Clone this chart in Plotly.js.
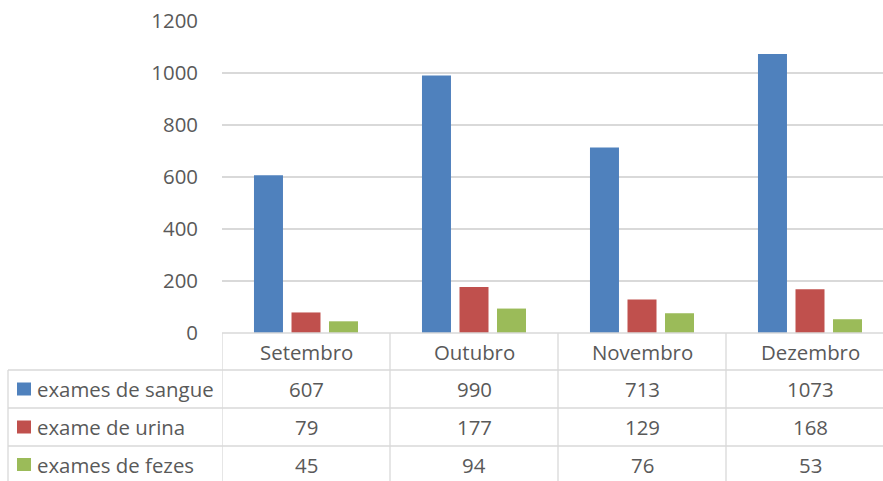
<!DOCTYPE html>
<html>
<head>
<meta charset="utf-8">
<script src="https://cdn.plot.ly/plotly-3.0.1.min.js"></script>
<style>
html,body{margin:0;padding:0;overflow:hidden;background:#fff;}
#chart{width:900px;height:481px;}
</style>
</head>
<body>
<div id="chart"></div>
<script>
const categories = ["Setembro", "Outubro", "Novembro", "Dezembro"];
const seriesNames = ["exames de sangue", "exame de urina", "exames de fezes"];
const sangue = [607, 990, 713, 1073];
const urina = [79, 177, 129, 168];
const fezes = [45, 94, 76, 53];
const yTicks = [0, 200, 400, 600, 800, 1000, 1200];

const seriesValues = [sangue, urina, fezes];
const colors = ["#4F81BD", "#C0504D", "#9BBB59"];
const FONT = "Open Sans, sans-serif";
const FS = 20.4;
const TXT = "#595959";
const GRID = "#D9D9D9";

// layout geometry (pixels)
const W = 900, H = 481;
const L = 222, R = 894, T = 21, B = 333;
const pw = R - L, ph = B - T;
const px = X => (X - L) / pw;
const py = Y => (B - Y) / ph;

const rowEdges = [333, 370, 408, 446, 484];
const rowCenters = [351.5, 389, 427, 464.5];

const traces = seriesValues.map((vals, i) => ({
  type: "bar",
  name: seriesNames[i],
  x: categories,
  y: vals,
  marker: {color: colors[i]},
  hoverinfo: "x+y+name"
}));

const shapes = [];
const annotations = [];

// horizontal table lines
shapes.push({type: "line", xref: "paper", yref: "paper", x0: 0, x1: 1, y0: py(rowEdges[0]), y1: py(rowEdges[0]), line: {color: GRID, width: 1.3}});
for (let r = 1; r < rowEdges.length; r++) {
  shapes.push({type: "line", xref: "paper", yref: "paper", x0: px(8), x1: 1, y0: py(rowEdges[r]), y1: py(rowEdges[r]), line: {color: GRID, width: 1.3}});
}
// vertical table lines
shapes.push({type: "line", xref: "paper", yref: "paper", x0: px(8), x1: px(8), y0: py(rowEdges[1]), y1: py(rowEdges[4]), line: {color: GRID, width: 1.3}});
for (let c = 0; c <= categories.length; c++) {
  shapes.push({type: "line", xref: "x", yref: "paper", x0: c - 0.5, x1: c - 0.5, y0: py(rowEdges[0]), y1: py(rowEdges[4]), line: {color: GRID, width: 1.3}});
}

// header: category names
categories.forEach((cat, c) => {
  annotations.push({xref: "x", yref: "paper", x: c, y: py(rowCenters[0]), text: cat, showarrow: false,
    xanchor: "center", yanchor: "middle", font: {family: FONT, size: FS, color: TXT}});
});

// rows: legend keys, names and values
seriesNames.forEach((name, i) => {
  const yc = rowCenters[i + 1];
  shapes.push({type: "rect", xref: "paper", yref: "paper", x0: px(17), x1: px(31), y0: py(yc - 6.5), y1: py(yc + 6.5),
    fillcolor: colors[i], line: {width: 0}});
  annotations.push({xref: "paper", yref: "paper", x: px(35), y: py(yc), text: name, showarrow: false,
    xanchor: "left", yanchor: "middle", font: {family: FONT, size: FS, color: TXT}});
  seriesValues[i].forEach((v, c) => {
    annotations.push({xref: "x", yref: "paper", x: c, y: py(yc), text: String(v), showarrow: false,
      xanchor: "center", yanchor: "middle", font: {family: FONT, size: FS, color: TXT}});
  });
});

const layout = {
  width: W, height: H,
  margin: {l: L, r: W - R, t: T, b: H - B, pad: 0},
  paper_bgcolor: "#fff", plot_bgcolor: "#fff",
  barmode: "group",
  bargap: 0.33,
  bargroupgap: 0.227,
  showlegend: false,
  font: {family: FONT, size: FS, color: TXT},
  xaxis: {type: "category", range: [-0.5, 3.5], showticklabels: false, showgrid: false, zeroline: false, showline: false, ticks: ""},
  yaxis: {range: [0, 1200], tickvals: yTicks, ticktext: yTicks.map(String), showgrid: true, gridcolor: GRID, gridwidth: 1.3,
    zeroline: false, showline: false, ticks: "", ticklabelstandoff: 23, tickfont: {family: FONT, size: FS, color: TXT}},
  shapes: shapes,
  annotations: annotations
};

Plotly.newPlot("chart", traces, layout, {displayModeBar: false, staticPlot: true});
</script>
</body>
</html>
